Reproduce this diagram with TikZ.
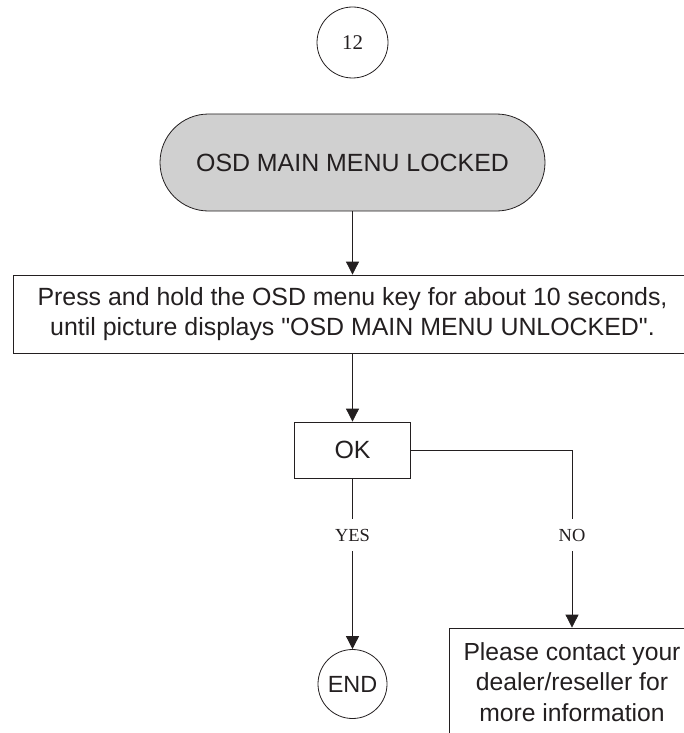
\documentclass[tikz,border=0pt]{standalone}
\usepackage{fontspec}
\setmainfont{Liberation Serif}
\setsansfont{Liberation Sans}
\usetikzlibrary{arrows.meta}
\definecolor{ink}{RGB}{35,31,32}
\definecolor{lockfill}{RGB}{208,208,208}
\newcommand\straightdq{\XeTeXglyph\XeTeXcharglyph"0022\relax}
\begin{document}
\begin{tikzpicture}[x=1bp,y=-1bp,
  line/.style={draw=ink, line width=0.8bp},
  arr/.style={line, -{Triangle[length=13bp,width=13bp]}},
  circ/.style={line, circle, inner sep=0pt, text=ink},
  box/.style={line, rectangle, inner sep=0pt, text=ink, align=center},
  stad/.style={line, fill=lockfill, rectangle, rounded corners=48.5bp,
    minimum width=385bp, minimum height=97bp, inner sep=0pt, text=ink,
    font=\sffamily\fontsize{25}{25}\selectfont},
  lbl/.style={inner sep=0pt, minimum height=32bp, text=ink,
    font=\rmfamily\fontsize{18.5}{18.5}\selectfont}
]
\useasboundingbox (0,0) rectangle (684,733);
\clip (0,0) rectangle (684,733);

\node[circ, minimum size=71bp, font=\rmfamily\fontsize{21}{21}\selectfont] (c12) at (352.5,42.5) {12};
\node[stad] (lock) at (352.5,162.5) {OSD MAIN MENU LOCKED};
\node[box, minimum width=679bp, minimum height=78bp, font=\sffamily\fontsize{25}{30}\selectfont] (press) at (352.5,314)
  {Press and hold the OSD menu key for about 10 seconds,\\until picture displays \straightdq OSD MAIN MENU UNLOCKED\straightdq.};
\node[box, minimum width=116bp, minimum height=56bp, font=\sffamily\fontsize{25}{25}\selectfont] (ok) at (352.5,450) {OK};
\node[lbl] (yes) at (352.5,535) {YES};
\node[lbl] (no) at (572,535) {NO};
\coordinate (corner) at (572,450);
\node[circ, minimum size=69bp, font=\sffamily\fontsize{23.5}{23.5}\selectfont] (end) at (352.5,684) {END};
\node[box, minimum width=246bp, minimum height=108bp, font=\sffamily\fontsize{24.8}{30.5}\selectfont] (contact) at (572,682)
  {Please contact your\\dealer/reseller for\\more information};

\draw[arr] (lock) -- (press);
\draw[arr] (press) -- (ok);
\draw[line] (ok) -- (yes);
\draw[arr] (yes) -- (end);
\draw[line] (ok.east) -- (corner) -- (no);
\draw[arr] (no) -- (contact);
\end{tikzpicture}
\end{document}
